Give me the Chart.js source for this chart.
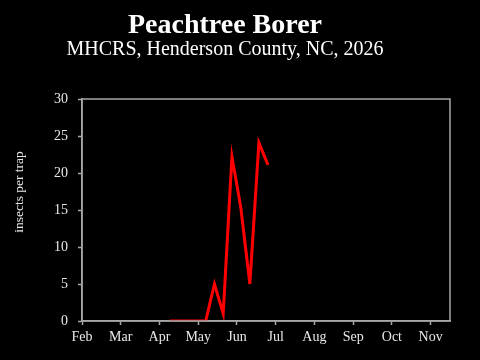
<!DOCTYPE html>
<html>
<head>
<meta charset="utf-8">
<script src="https://cdn.jsdelivr.net/npm/chart.js@4"></script>
<style>
  html, body { margin: 0; padding: 0; background: #000; }
  #wrap { width: 480px; height: 360px; }
</style>
</head>
<body>
<div id="wrap"><canvas id="c" width="480" height="360"></canvas></div>
<script>
// ---- data ----
const monthLabels = ["Feb", "Mar", "Apr", "May", "Jun", "Jul", "Aug", "Sep", "Oct", "Nov"];
const sampleDates = ["04-09", "04-16", "04-23", "04-30", "05-07", "05-14", "05-21", "05-28", "06-04", "06-11", "06-18", "06-25"];
const insectsPerTrap = [0, 0, 0, 0, 0, 5, 1, 22.2, 15.3, 5, 24.1, 21.1];
const yTicks = [0, 5, 10, 15, 20, 25, 30];
const titleText = "Peachtree Borer";
const subtitleText = "MHCRS, Henderson County, NC, 2026";
const yTitleText = "insects per trap";

// month index axis: Feb = 0
const daysInMonth = [31, 28, 31, 30, 31, 30, 31, 31, 30, 31, 30, 31];
function toMonthPos(s) {
  const [m, d] = s.split("-").map(Number);
  return (m - 2) + (d - 1) / daysInMonth[m - 1];
}
const points = sampleDates.map((s, i) => ({ x: toMonthPos(s), y: insectsPerTrap[i] }));

const axisColor = "#a8a8a8";
const textColor = "#e8e8e8";
const serif = "'Liberation Serif', 'Times New Roman', serif";

const frame = {
  id: "frame",
  afterDraw(chart) {
    const { ctx, chartArea: a } = chart;
    ctx.save();
    ctx.strokeStyle = axisColor;
    ctx.lineWidth = 1.5;
    ctx.strokeRect(a.left, a.top, a.right - a.left, a.bottom - a.top);
    ctx.restore();
  }
};
const yTitle = {
  id: "yTitle",
  afterDraw(chart) {
    const { ctx } = chart;
    ctx.save();
    ctx.fillStyle = textColor;
    ctx.font = "13.5px " + serif;
    ctx.textAlign = "center";
    ctx.textBaseline = "middle";
    ctx.translate(19, 192);
    ctx.rotate(-Math.PI / 2);
    ctx.fillText(yTitleText, 0, 0);
    ctx.restore();
  }
};

new Chart(document.getElementById("c"), {
  type: "line",
  data: {
    datasets: [{
      data: points,
      borderColor: "#ff0000",
      borderWidth: 3,
      pointRadius: 0,
      tension: 0,
      fill: false
    }]
  },
  options: {
    responsive: false,
    animation: false,
    layout: { padding: { left: 0, right: 30, top: 0, bottom: 0 } },
    plugins: {
      legend: { display: false },
      tooltip: { enabled: false },
      title: {
        display: true,
        text: titleText,
        color: "#ffffff",
        font: { family: serif, size: 28, weight: "bold", lineHeight: 1.0 },
        padding: { top: 12, bottom: 0 }
      },
      subtitle: {
        display: true,
        text: subtitleText,
        color: "#ffffff",
        font: { family: serif, size: 20, lineHeight: 1.0 },
        padding: { top: 0, bottom: 39 }
      }
    },
    scales: {
      x: {
        type: "linear",
        min: 0,
        max: 9.5,
        afterBuildTicks: (s) => { s.ticks = monthLabels.map((_, i) => ({ value: i })); },
        afterFit: (s) => { s.height = 39; },
        ticks: {
          color: textColor,
          font: { family: serif, size: 14 },
          padding: 4,
          maxRotation: 0,
          autoSkip: false,
          callback: (v) => monthLabels[Math.round(v)]
        },
        grid: { drawOnChartArea: false, color: axisColor, tickLength: 4, tickWidth: 1.5 },
        border: { display: true, color: axisColor, width: 1.5 }
      },
      y: {
        min: 0,
        max: 30,
        afterBuildTicks: (s) => { s.ticks = yTicks.map(v => ({ value: v })); },
        afterFit: (s) => { s.width = 82; },
        ticks: {
          color: textColor,
          font: { family: serif, size: 14 },
          padding: 10
        },
        grid: { drawOnChartArea: false, color: axisColor, tickLength: 4, tickWidth: 1.5 },
        border: { display: true, color: axisColor, width: 1.5 }
      }
    }
  },
  plugins: [frame, yTitle]
});
</script>
</body>
</html>
